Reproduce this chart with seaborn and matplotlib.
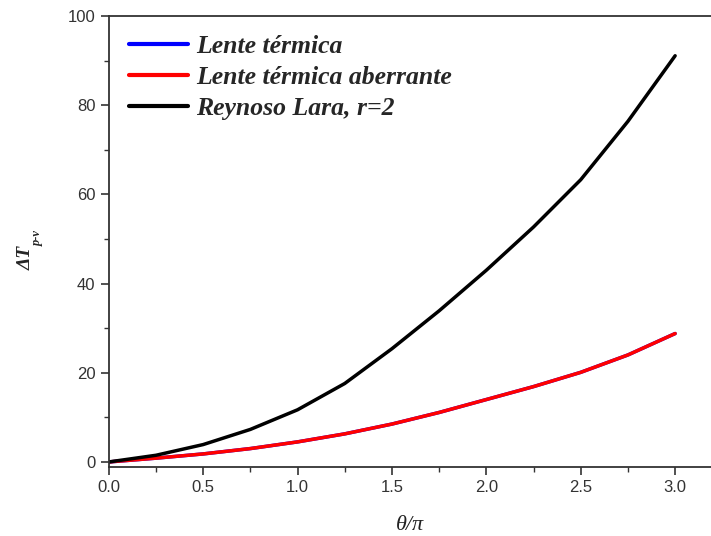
import numpy as np
import pandas as pd
import matplotlib
matplotlib.use("Agg")
import matplotlib.pyplot as plt
import seaborn as sns
from matplotlib.ticker import MultipleLocator

# values
theta = [0.0, 0.25, 0.5, 0.75, 1.0, 1.25, 1.5, 1.75, 2.0, 2.25, 2.5, 2.75, 3.0]
lente = [0.0, 0.85, 1.8, 3.0, 4.5, 6.3, 8.5, 11.1, 14.0, 16.9, 20.1, 24.0, 28.8]
lente_aberrante = [0.0, 0.85, 1.8, 3.0, 4.5, 6.3, 8.5, 11.1, 14.0, 16.9, 20.1, 24.0, 28.8]
reynoso = [0.0, 1.5, 3.9, 7.3, 11.7, 17.6, 25.4, 33.9, 43.0, 52.7, 63.3, 76.4, 91.1]

labels = ["Lente térmica", "Lente térmica aberrante", "Reynoso Lara, r=2"]
colors = ["#0000ff", "#ff0000", "#000000"]

df = pd.concat([
    pd.DataFrame({"theta": theta, "dT": lente, "serie": labels[0]}),
    pd.DataFrame({"theta": theta, "dT": lente_aberrante, "serie": labels[1]}),
    pd.DataFrame({"theta": theta, "dT": reynoso, "serie": labels[2]}),
])

sns.set_style("white")
plt.rcParams["font.family"] = ["Liberation Sans", "DejaVu Sans"]

fig = plt.figure(figsize=(7.11, 5.36), dpi=100)
ax = fig.add_axes([0.153, 0.129, 0.847, 0.841])

sns.lineplot(data=df, x="theta", y="dT", hue="serie", hue_order=labels,
             palette=dict(zip(labels, colors)), linewidth=2.5, ax=ax)

ax.set_xlim(0, 3.19)
ax.set_ylim(-1.1, 100)
ax.xaxis.set_major_locator(MultipleLocator(0.5))
ax.xaxis.set_minor_locator(MultipleLocator(0.25))
ax.yaxis.set_major_locator(MultipleLocator(20))
ax.yaxis.set_minor_locator(MultipleLocator(10))
ax.tick_params(which="major", direction="out", length=6, width=1.2, color="#333333",
               labelsize=12, labelcolor="#333333", bottom=True, left=True, top=False, right=False)
ax.tick_params(which="minor", direction="out", length=3.5, width=1.0, color="#333333",
               bottom=True, left=True, top=False, right=False)
ax.set_xticklabels([f"{v:.1f}" for v in ax.get_xticks()])

for side in ["left", "bottom", "top"]:
    ax.spines[side].set_color("#333333")
    ax.spines[side].set_linewidth(1.3)
ax.spines["right"].set_visible(False)

ax.set_xlabel("θ/π", fontsize=16, labelpad=15, family="Liberation Serif",
              fontstyle="italic", color="#222222")
ax.set_ylabel("")
fig.text(0.037, 0.519, "ΔT", fontsize=14, fontweight="bold", fontstyle="italic",
         family="Liberation Serif", rotation=90, va="center", ha="center")
fig.text(0.053, 0.555, "p-v", fontsize=9, fontweight="bold", fontstyle="italic",
         family="Liberation Serif", rotation=90, va="center", ha="center")

leg = ax.legend(loc="upper left", frameon=False, handlelength=2.3, handletextpad=0.3,
                labelspacing=0.3, borderaxespad=0.4, bbox_to_anchor=(0.0, 1.003),
                prop={"family": "Liberation Serif", "weight": "bold", "style": "italic", "size": 18.5})
for line in leg.get_lines():
    line.set_linewidth(3)

fig.savefig("out.png", dpi=100)
